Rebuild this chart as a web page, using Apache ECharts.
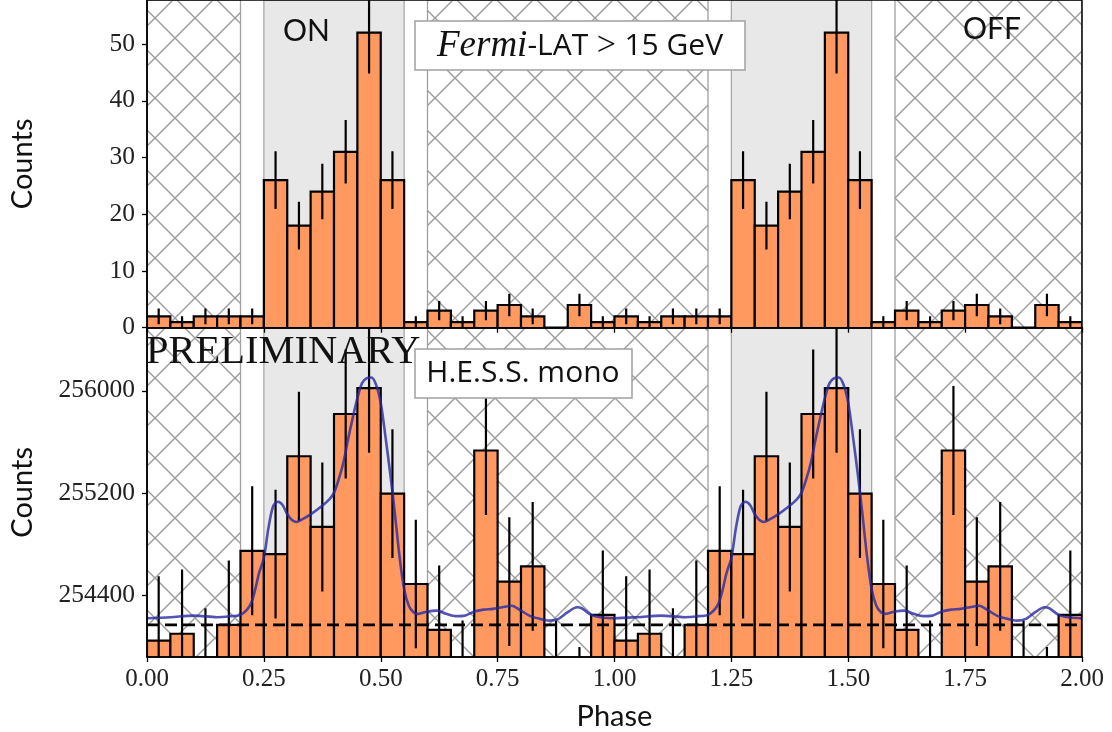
<!DOCTYPE html>
<html><head><meta charset="utf-8">
<script src="https://cdn.jsdelivr.net/npm/echarts@6/dist/echarts.min.js"></script>
<style>html,body{margin:0;padding:0;background:#fff}#c{width:1112px;height:732px}</style>
</head><body><div id="c"></div>
<script>
// ---------- data ----------
const binEdges = [0.00,0.05,0.10,0.15,0.20,0.25,0.30,0.35,0.40,0.45,0.50,0.55,0.60,0.65,0.70,0.75,0.80,0.85,0.90,0.95,
                  1.00,1.05,1.10,1.15,1.20,1.25,1.30,1.35,1.40,1.45,1.50,1.55,1.60,1.65,1.70,1.75,1.80,1.85,1.90,1.95,2.00];
const fermiCounts = [2,1,2,2,2,26,18,24,31,52,26,1,3,1,3,4,2,0,4,1,
                     2,1,2,2,2,26,18,24,31,52,26,1,3,1,3,4,2,0,4,1];
const fermiErr = [1.4,1.0,1.4,1.4,1.4,5.1,4.2,4.9,5.6,7.2,5.1,1.0,1.7,1.0,1.7,2.0,1.4,0,2.0,1.0,
                  1.4,1.0,1.4,1.4,1.4,5.1,4.2,4.9,5.6,7.2,5.1,1.0,1.7,1.0,1.7,2.0,1.4,0,2.0,1.0];
const hessCounts = [254043,254096,253792,254166,254746,254720,255487,254933,255818,256021,255194,254486,254127,253695,255532,254504,254624,253696,253488,254244,
                    254043,254096,253792,254166,254746,254720,255487,254933,255818,256021,255194,254486,254127,253695,255532,254504,254624,253696,253488,254244];
const hessErr = [504,504,504,504,505,505,505,505,506,506,505,504,504,504,505,504,505,504,504,504,
                 504,504,504,504,505,505,505,505,506,506,505,504,504,504,505,504,505,504,504,504];
const curvePhase = [0.00,0.05,0.10,0.15,0.18,0.20,0.22,0.23,0.24,0.25,0.26,0.27,0.28,0.29,0.30,0.31,0.32,0.33,0.35,0.37,0.39,0.40,
  0.41,0.42,0.43,0.44,0.45,0.46,0.47,0.48,0.49,0.50,0.51,0.52,0.53,0.54,0.55,0.56,0.57,0.58,0.60,0.62,0.64,0.66,0.68,0.70,
  0.72,0.74,0.76,0.78,0.80,0.82,0.84,0.86,0.88,0.90,0.92,0.93,0.95,0.97,
  1.00,1.05,1.10,1.15,1.18,1.20,1.22,1.23,1.24,1.25,1.26,1.27,1.28,1.29,1.30,1.31,1.32,1.33,1.35,1.37,1.39,1.40,
  1.41,1.42,1.43,1.44,1.45,1.46,1.47,1.48,1.49,1.50,1.51,1.52,1.53,1.54,1.55,1.56,1.57,1.58,1.60,1.62,1.64,1.66,1.68,1.70,
  1.72,1.74,1.76,1.78,1.80,1.82,1.84,1.86,1.88,1.90,1.92,1.93,1.95,1.97,2.00];
const curveCounts = [254218,254226,254238,254226,254234,254244,254316,254421,254577,254690,254930,255097,255130,255105,255032,254988,254972,254988,255032,255085,255149,255202,
  255305,255436,255618,255787,255943,256060,256099,256104,256047,255904,255643,255358,255045,254707,254447,254316,254265,254252,254270,254277,254252,254234,254238,254270,
  254285,254291,254304,254316,254277,254234,254213,254199,254213,254265,254304,254296,254244,254226,
  254218,254226,254238,254226,254234,254244,254316,254421,254577,254690,254930,255097,255130,255105,255032,254988,254972,254988,255032,255085,255149,255202,
  255305,255436,255618,255787,255943,256060,256099,256104,256047,255904,255643,255358,255045,254707,254447,254316,254265,254252,254270,254277,254252,254234,254238,254270,
  254285,254291,254304,254316,254277,254234,254213,254199,254213,254265,254304,254296,254244,254226,254218];
const offLevel = 254166;
const onRegions = [[0.25,0.55],[1.25,1.55]];
const offRegions = [[0.00,0.20],[0.60,1.20],[1.60,2.00]];
const fermiTicks = [0,10,20,30,40,50];
const hessTicks = [254400,255200,256000];
const phaseTicks = [0,0.25,0.5,0.75,1.0,1.25,1.5,1.75,2.0];

// ---------- styles ----------
const ORANGE = '#FF9960';
const SERIF = '"Liberation Serif", "DejaVu Serif", serif';
const SANS = 'Lato, "DejaVu Sans", sans-serif';
const SANS2 = '"Open Sans", "DejaVu Sans", sans-serif';

function binData(counts, errs) {
  return counts.map((v, i) => [binEdges[i], binEdges[i + 1], v, errs[i]]);
}

function barRender(base) {
  return function (params, api) {
    const p0 = api.coord([api.value(0), api.value(2)]);
    const p1 = api.coord([api.value(1), base]);
    return { type: 'rect', shape: { x: p0[0], y: p0[1], width: p1[0] - p0[0], height: p1[1] - p0[1] },
      style: { fill: ORANGE, stroke: '#000', lineWidth: 2.2 } };
  };
}
function errRender(params, api) {
  const e = api.value(3);
  if (!e) return null;
  const c = (api.value(0) + api.value(1)) / 2;
  const v = api.value(2);
  const a = api.coord([c, v - e]), b = api.coord([c, v + e]);
  return { type: 'line', shape: { x1: a[0], y1: a[1], x2: b[0], y2: b[1] }, style: { stroke: '#000', lineWidth: 2.2 } };
}
function hatchRender(params, api) {
  const cs = params.coordSys;
  const a = api.coord([api.value(0), api.value(2)])[0];
  const b = api.coord([api.value(1), api.value(2)])[0];
  const y0 = cs.y, y1 = cs.y + cs.height;
  const S = 40, sumOff = 13, difOff = 17;
  const st = { stroke: '#9c9c9c', lineWidth: 1.4 };
  const ch = [];
  let c = Math.ceil((a + y0 - sumOff) / S) * S + sumOff;
  for (; c <= b + y1; c += S) {
    const lo = Math.max(a, c - y1), hi = Math.min(b, c - y0);
    if (hi > lo) ch.push({ type: 'line', shape: { x1: lo, y1: c - lo, x2: hi, y2: c - hi }, style: st });
  }
  c = Math.ceil((a - y1 - difOff) / S) * S + difOff;
  for (; c <= b - y0; c += S) {
    const lo = Math.max(a, c + y0), hi = Math.min(b, c + y1);
    if (hi > lo) ch.push({ type: 'line', shape: { x1: lo, y1: lo - c, x2: hi, y2: hi - c }, style: st });
  }
  ch.push({ type: 'rect', shape: { x: a, y: y0, width: b - a, height: y1 - y0 }, style: { fill: 'none', stroke: '#a0a0a0', lineWidth: 1.3 } });
  return { type: 'group', children: ch };
}
function onRender(params, api) {
  const cs = params.coordSys;
  const a = api.coord([api.value(0), api.value(2)])[0];
  const b = api.coord([api.value(1), api.value(2)])[0];
  return { type: 'rect', shape: { x: a, y: cs.y, width: b - a, height: cs.height },
    style: { fill: '#e8e8e8', stroke: '#a8a8a8', lineWidth: 1.3 } };
}

const GRID_L = 144, GRID_W = 938;
const grids = [
  { left: GRID_L, top: -2, width: GRID_W, height: 329.7, show: true, borderColor: '#000', borderWidth: 1.5, backgroundColor: 'transparent', z: 10 },
  { left: GRID_L, top: 327.7, width: GRID_W, height: 330.6, show: true, borderColor: '#000', borderWidth: 1.5, backgroundColor: 'transparent', z: 10 }
];
function xAx(idx, labels) {
  return {
    type: 'value', gridIndex: idx, min: 0, max: 2, interval: 0.25,
    axisLine: { show: true, lineStyle: { color: '#000', width: 1.5 } },
    axisTick: { show: true, inside: false, length: 5, lineStyle: { color: '#000', width: 1.3 } },
    splitLine: { show: false },
    axisLabel: labels ? { show: true, margin: 10, color: '#222', fontFamily: SERIF, fontSize: 25, formatter: v => v.toFixed(2) } : { show: false },
    name: labels ? 'Phase' : '', nameLocation: 'middle', nameGap: 45,
    nameTextStyle: { fontFamily: SANS, fontSize: 29, color: '#111' }, z: 12
  };
}
function yAx(idx, min, max, ticks) {
  return {
    type: 'value', gridIndex: idx, min: min, max: max,
    axisLine: { show: true, lineStyle: { color: '#000', width: 1.5 } },
    axisTick: { show: true, inside: false, length: 5, customValues: ticks, lineStyle: { color: '#000', width: 1.3 } },
    splitLine: { show: false },
    axisLabel: { show: true, margin: 12, color: '#222', fontFamily: SERIF, fontSize: 25.5, customValues: ticks, formatter: v => String(v) },
    name: 'Counts', nameLocation: 'middle', nameGap: 110,
    nameTextStyle: { fontFamily: SANS, fontSize: 29, color: '#111' }, z: 12
  };
}

const chart = echarts.init(document.getElementById('c'), null, { renderer: 'canvas' });
const regionSeries = [];
[0, 1].forEach(g => {
  const yref = g === 0 ? 0 : 255000;
  regionSeries.push({ type: 'custom', xAxisIndex: g, yAxisIndex: g, renderItem: onRender, silent: true, clip: true, z: 1,
    data: onRegions.map(r => [r[0], r[1], yref]), encode: { x: [0, 1], y: 2 } });
  regionSeries.push({ type: 'custom', xAxisIndex: g, yAxisIndex: g, renderItem: hatchRender, silent: true, clip: true, z: 1,
    data: offRegions.map(r => [r[0], r[1], yref]), encode: { x: [0, 1], y: 2 } });
});

chart.setOption({
  animation: false,
  backgroundColor: '#fff',
  grid: grids,
  xAxis: [xAx(0, false), xAx(1, true)],
  yAxis: [yAx(0, 0, 57.76, fermiTicks), yAx(1, 253914, 256494, hessTicks)],
  series: regionSeries.concat([
    { type: 'custom', name: 'Fermi bars', xAxisIndex: 0, yAxisIndex: 0, renderItem: barRender(-5), clip: true, z: 3,
      data: binData(fermiCounts, fermiErr), encode: { x: [0, 1], y: 2 } },
    { type: 'custom', name: 'Fermi err', xAxisIndex: 0, yAxisIndex: 0, renderItem: errRender, clip: true, z: 4,
      data: binData(fermiCounts, fermiErr), encode: { x: [0, 1], y: 2 } },
    { type: 'custom', name: 'HESS bars', xAxisIndex: 1, yAxisIndex: 1, renderItem: barRender(252000), clip: true, z: 3,
      data: binData(hessCounts, hessErr), encode: { x: [0, 1], y: 2 } },
    { type: 'custom', name: 'HESS err', xAxisIndex: 1, yAxisIndex: 1, renderItem: errRender, clip: true, z: 4,
      data: binData(hessCounts, hessErr), encode: { x: [0, 1], y: 2 } },
    { type: 'line', name: 'model', xAxisIndex: 1, yAxisIndex: 1, smooth: 0.3, showSymbol: false, clip: true, z: 5,
      data: curvePhase.map((p, i) => [p, curveCounts[i]]),
      lineStyle: { color: 'rgba(40,40,160,0.8)', width: 2.6 } },
    { type: 'line', name: 'off level', xAxisIndex: 1, yAxisIndex: 1, showSymbol: false, clip: true, z: 6,
      data: [[0, offLevel], [2, offLevel]],
      lineStyle: { color: '#000', width: 2.6, type: [12, 6] } }
  ]),
  graphic: [
    { type: 'text', left: 283, top: 16, z: 50, style: { text: 'ON', font: '30px ' + SANS, fill: '#111' } },
    { type: 'text', left: 963, top: 14, z: 50, style: { text: 'OFF', font: '30px ' + SANS, fill: '#111' } },
    { type: 'rect', z: 50, shape: { x: 415, y: 21, width: 330, height: 49 }, style: { fill: '#fff', stroke: '#a0a0a0', lineWidth: 1.5 } },
    { type: 'text', z: 51, x: 580, y: 46, style: {
        text: '{i|Fermi}{n|-LAT}{m| > }{n|15 GeV}', align: 'center', verticalAlign: 'middle',
        rich: { i: { fontFamily: SERIF, fontStyle: 'italic', fontSize: 37, fill: '#111', color: '#111' },
                m: { fontFamily: SERIF, fontSize: 34, fill: '#111', color: '#111' },
                n: { fontFamily: SANS2, fontSize: 30, fill: '#111', color: '#111' } } } },
    { type: 'rect', z: 50, shape: { x: 415, y: 349, width: 217, height: 49 }, style: { fill: '#fff', stroke: '#a0a0a0', lineWidth: 1.5 } },
    { type: 'text', z: 51, x: 523, y: 373, style: { text: 'H.E.S.S. mono', align: 'center', verticalAlign: 'middle', font: '30px ' + SANS2, fill: '#111' } },
    { type: 'text', z: 52, left: 146, top: 332, style: { text: 'PRELIMINARY', font: '40.5px ' + SERIF, fill: '#111' } }
  ]
});
</script></body></html>
